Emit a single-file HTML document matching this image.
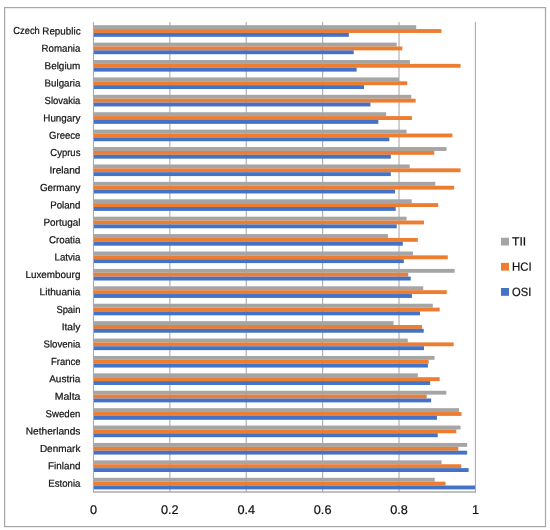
<!DOCTYPE html>
<html lang="en"><head><meta charset="utf-8"><title>EGDI components</title>
<style>html,body{margin:0;padding:0;background:#fff}svg{display:block}text{font-family:"Liberation Sans",sans-serif;fill:#111;stroke:#111;stroke-width:0.22px;text-rendering:geometricPrecision;stroke-linejoin:round}</style></head><body>
<svg width="550" height="530" viewBox="0 0 550 530">
<rect x="0" y="0" width="550" height="530" fill="#fff"/>
<rect x="4.6" y="7.6" width="540.9" height="519" fill="none" stroke="#A6A6A6" stroke-width="1.2"/>
<line x1="93.45" y1="21.90" x2="93.45" y2="492.30" stroke="#ABABAB" stroke-width="1.1"/>
<line x1="169.85" y1="21.90" x2="169.85" y2="492.30" stroke="#ABABAB" stroke-width="1.1"/>
<line x1="246.24" y1="21.90" x2="246.24" y2="492.30" stroke="#ABABAB" stroke-width="1.1"/>
<line x1="322.64" y1="21.90" x2="322.64" y2="492.30" stroke="#ABABAB" stroke-width="1.1"/>
<line x1="399.03" y1="21.90" x2="399.03" y2="492.30" stroke="#ABABAB" stroke-width="1.1"/>
<line x1="475.43" y1="21.90" x2="475.43" y2="492.30" stroke="#ABABAB" stroke-width="1.1"/>
<line x1="92.95" y1="492.00" x2="475.93" y2="492.00" stroke="#ABABAB" stroke-width="1.3"/>
<rect x="93.95" y="25.20" width="322.27" height="3.87" fill="#A5A5A5"/>
<rect x="93.95" y="29.07" width="347.48" height="3.87" fill="#ED7D31"/>
<rect x="93.95" y="32.94" width="254.89" height="3.87" fill="#4472C4"/>
<rect x="93.95" y="42.61" width="302.79" height="3.87" fill="#A5A5A5"/>
<rect x="93.95" y="46.48" width="308.37" height="3.87" fill="#ED7D31"/>
<rect x="93.95" y="50.35" width="259.78" height="3.87" fill="#4472C4"/>
<rect x="93.95" y="60.02" width="316.01" height="3.87" fill="#A5A5A5"/>
<rect x="93.95" y="63.88" width="366.58" height="3.87" fill="#ED7D31"/>
<rect x="93.95" y="67.75" width="262.68" height="3.87" fill="#4472C4"/>
<rect x="93.95" y="77.42" width="304.97" height="3.87" fill="#A5A5A5"/>
<rect x="93.95" y="81.29" width="313.30" height="3.87" fill="#ED7D31"/>
<rect x="93.95" y="85.16" width="270.09" height="3.87" fill="#4472C4"/>
<rect x="93.95" y="94.83" width="317.31" height="3.87" fill="#A5A5A5"/>
<rect x="93.95" y="98.70" width="321.70" height="3.87" fill="#ED7D31"/>
<rect x="93.95" y="102.57" width="276.51" height="3.87" fill="#4472C4"/>
<rect x="93.95" y="112.24" width="292.21" height="3.87" fill="#A5A5A5"/>
<rect x="93.95" y="116.11" width="317.99" height="3.87" fill="#ED7D31"/>
<rect x="93.95" y="119.97" width="284.38" height="3.87" fill="#4472C4"/>
<rect x="93.95" y="129.65" width="312.61" height="3.87" fill="#A5A5A5"/>
<rect x="93.95" y="133.51" width="358.48" height="3.87" fill="#ED7D31"/>
<rect x="93.95" y="137.38" width="295.38" height="3.87" fill="#4472C4"/>
<rect x="93.95" y="147.05" width="352.60" height="3.87" fill="#A5A5A5"/>
<rect x="93.95" y="150.92" width="340.34" height="3.87" fill="#ED7D31"/>
<rect x="93.95" y="154.79" width="296.87" height="3.87" fill="#4472C4"/>
<rect x="93.95" y="164.46" width="315.78" height="3.87" fill="#A5A5A5"/>
<rect x="93.95" y="168.33" width="366.58" height="3.87" fill="#ED7D31"/>
<rect x="93.95" y="172.20" width="296.87" height="3.87" fill="#4472C4"/>
<rect x="93.95" y="181.87" width="341.30" height="3.87" fill="#A5A5A5"/>
<rect x="93.95" y="185.74" width="360.20" height="3.87" fill="#ED7D31"/>
<rect x="93.95" y="189.60" width="301.07" height="3.87" fill="#4472C4"/>
<rect x="93.95" y="199.28" width="317.77" height="3.87" fill="#A5A5A5"/>
<rect x="93.95" y="203.14" width="344.28" height="3.87" fill="#ED7D31"/>
<rect x="93.95" y="207.01" width="301.80" height="3.87" fill="#4472C4"/>
<rect x="93.95" y="216.68" width="312.61" height="3.87" fill="#A5A5A5"/>
<rect x="93.95" y="220.55" width="330.03" height="3.87" fill="#ED7D31"/>
<rect x="93.95" y="224.42" width="302.79" height="3.87" fill="#4472C4"/>
<rect x="93.95" y="234.09" width="294.01" height="3.87" fill="#A5A5A5"/>
<rect x="93.95" y="237.96" width="323.88" height="3.87" fill="#ED7D31"/>
<rect x="93.95" y="241.83" width="308.90" height="3.87" fill="#4472C4"/>
<rect x="93.95" y="251.50" width="318.99" height="3.87" fill="#A5A5A5"/>
<rect x="93.95" y="255.37" width="353.82" height="3.87" fill="#ED7D31"/>
<rect x="93.95" y="259.23" width="309.90" height="3.87" fill="#4472C4"/>
<rect x="93.95" y="268.90" width="360.70" height="3.87" fill="#A5A5A5"/>
<rect x="93.95" y="272.77" width="314.29" height="3.87" fill="#ED7D31"/>
<rect x="93.95" y="276.64" width="316.77" height="3.87" fill="#4472C4"/>
<rect x="93.95" y="286.31" width="329.30" height="3.87" fill="#A5A5A5"/>
<rect x="93.95" y="290.18" width="352.83" height="3.87" fill="#ED7D31"/>
<rect x="93.95" y="294.05" width="317.99" height="3.87" fill="#4472C4"/>
<rect x="93.95" y="303.72" width="338.85" height="3.87" fill="#A5A5A5"/>
<rect x="93.95" y="307.59" width="345.73" height="3.87" fill="#ED7D31"/>
<rect x="93.95" y="311.46" width="326.09" height="3.87" fill="#4472C4"/>
<rect x="93.95" y="321.13" width="299.58" height="3.87" fill="#A5A5A5"/>
<rect x="93.95" y="325.00" width="328.08" height="3.87" fill="#ED7D31"/>
<rect x="93.95" y="328.86" width="329.76" height="3.87" fill="#4472C4"/>
<rect x="93.95" y="338.53" width="313.83" height="3.87" fill="#A5A5A5"/>
<rect x="93.95" y="342.40" width="359.71" height="3.87" fill="#ED7D31"/>
<rect x="93.95" y="346.27" width="330.03" height="3.87" fill="#4472C4"/>
<rect x="93.95" y="355.94" width="340.61" height="3.87" fill="#A5A5A5"/>
<rect x="93.95" y="359.81" width="334.69" height="3.87" fill="#ED7D31"/>
<rect x="93.95" y="363.68" width="333.96" height="3.87" fill="#4472C4"/>
<rect x="93.95" y="373.35" width="323.88" height="3.87" fill="#A5A5A5"/>
<rect x="93.95" y="377.22" width="345.73" height="3.87" fill="#ED7D31"/>
<rect x="93.95" y="381.09" width="336.18" height="3.87" fill="#4472C4"/>
<rect x="93.95" y="390.76" width="352.37" height="3.87" fill="#A5A5A5"/>
<rect x="93.95" y="394.63" width="332.70" height="3.87" fill="#ED7D31"/>
<rect x="93.95" y="398.49" width="337.17" height="3.87" fill="#4472C4"/>
<rect x="93.95" y="408.16" width="365.09" height="3.87" fill="#A5A5A5"/>
<rect x="93.95" y="412.03" width="367.58" height="3.87" fill="#ED7D31"/>
<rect x="93.95" y="415.90" width="343.01" height="3.87" fill="#4472C4"/>
<rect x="93.95" y="425.57" width="366.58" height="3.87" fill="#A5A5A5"/>
<rect x="93.95" y="429.44" width="362.38" height="3.87" fill="#ED7D31"/>
<rect x="93.95" y="433.31" width="343.78" height="3.87" fill="#4472C4"/>
<rect x="93.95" y="442.98" width="373.19" height="3.87" fill="#A5A5A5"/>
<rect x="93.95" y="446.85" width="364.37" height="3.87" fill="#ED7D31"/>
<rect x="93.95" y="450.72" width="373.19" height="3.87" fill="#4472C4"/>
<rect x="93.95" y="460.39" width="347.67" height="3.87" fill="#A5A5A5"/>
<rect x="93.95" y="464.25" width="367.31" height="3.87" fill="#ED7D31"/>
<rect x="93.95" y="468.12" width="374.68" height="3.87" fill="#4472C4"/>
<rect x="93.95" y="477.79" width="340.80" height="3.87" fill="#A5A5A5"/>
<rect x="93.95" y="481.66" width="351.57" height="3.87" fill="#ED7D31"/>
<rect x="93.95" y="485.53" width="381.10" height="3.87" fill="#4472C4"/>
<text y="34.45" font-size="10.2" transform="rotate(0.03 80.6 34.45)"><tspan x="13.34" textLength="26.5" lengthAdjust="spacingAndGlyphs">Czech</tspan> <tspan x="42.30" textLength="38.3" lengthAdjust="spacingAndGlyphs">Republic</tspan></text>
<text x="80.4" y="51.85" font-size="10.2" text-anchor="end" transform="rotate(0.03 80.4 51.85)" textLength="38.8" lengthAdjust="spacingAndGlyphs">Romania</text>
<text x="80.4" y="69.25" font-size="10.2" text-anchor="end" transform="rotate(0.03 80.4 69.25)" textLength="35.9" lengthAdjust="spacingAndGlyphs">Belgium</text>
<text x="80.4" y="86.64" font-size="10.2" text-anchor="end" transform="rotate(0.03 80.4 86.64)" textLength="35.8" lengthAdjust="spacingAndGlyphs">Bulgaria</text>
<text x="80.4" y="104.04" font-size="10.2" text-anchor="end" transform="rotate(0.03 80.4 104.04)" textLength="35.8" lengthAdjust="spacingAndGlyphs">Slovakia</text>
<text x="80.4" y="121.43" font-size="10.2" text-anchor="end" transform="rotate(0.03 80.4 121.43)" textLength="37.1" lengthAdjust="spacingAndGlyphs">Hungary</text>
<text x="80.4" y="138.83" font-size="10.2" text-anchor="end" transform="rotate(0.03 80.4 138.83)" textLength="31.3" lengthAdjust="spacingAndGlyphs">Greece</text>
<text x="80.4" y="156.22" font-size="10.2" text-anchor="end" transform="rotate(0.03 80.4 156.22)" textLength="30.1" lengthAdjust="spacingAndGlyphs">Cyprus</text>
<text x="80.4" y="173.62" font-size="10.2" text-anchor="end" transform="rotate(0.03 80.4 173.62)" textLength="30.9" lengthAdjust="spacingAndGlyphs">Ireland</text>
<text x="80.4" y="191.02" font-size="10.2" text-anchor="end" transform="rotate(0.03 80.4 191.02)" textLength="40.5" lengthAdjust="spacingAndGlyphs">Germany</text>
<text x="80.4" y="208.41" font-size="10.2" text-anchor="end" transform="rotate(0.03 80.4 208.41)" textLength="30.2" lengthAdjust="spacingAndGlyphs">Poland</text>
<text x="80.4" y="225.81" font-size="10.2" text-anchor="end" transform="rotate(0.03 80.4 225.81)" textLength="36.9" lengthAdjust="spacingAndGlyphs">Portugal</text>
<text x="80.4" y="243.20" font-size="10.2" text-anchor="end" transform="rotate(0.03 80.4 243.20)" textLength="31.5" lengthAdjust="spacingAndGlyphs">Croatia</text>
<text x="80.4" y="260.60" font-size="10.2" text-anchor="end" transform="rotate(0.03 80.4 260.60)" textLength="25.9" lengthAdjust="spacingAndGlyphs">Latvia</text>
<text x="80.4" y="278.00" font-size="10.2" text-anchor="end" transform="rotate(0.03 80.4 278.00)" textLength="55.0" lengthAdjust="spacingAndGlyphs">Luxembourg</text>
<text x="80.4" y="295.39" font-size="10.2" text-anchor="end" transform="rotate(0.03 80.4 295.39)" textLength="40.8" lengthAdjust="spacingAndGlyphs">Lithuania</text>
<text x="80.4" y="312.79" font-size="10.2" text-anchor="end" transform="rotate(0.03 80.4 312.79)" textLength="24.0" lengthAdjust="spacingAndGlyphs">Spain</text>
<text x="80.4" y="330.18" font-size="10.2" text-anchor="end" transform="rotate(0.03 80.4 330.18)" textLength="18.7" lengthAdjust="spacingAndGlyphs">Italy</text>
<text x="80.4" y="347.58" font-size="10.2" text-anchor="end" transform="rotate(0.03 80.4 347.58)" textLength="36.9" lengthAdjust="spacingAndGlyphs">Slovenia</text>
<text x="80.4" y="364.98" font-size="10.2" text-anchor="end" transform="rotate(0.03 80.4 364.98)" textLength="29.4" lengthAdjust="spacingAndGlyphs">France</text>
<text x="80.4" y="382.37" font-size="10.2" text-anchor="end" transform="rotate(0.03 80.4 382.37)" textLength="31.2" lengthAdjust="spacingAndGlyphs">Austria</text>
<text x="80.4" y="399.77" font-size="10.2" text-anchor="end" transform="rotate(0.03 80.4 399.77)" textLength="25.6" lengthAdjust="spacingAndGlyphs">Malta</text>
<text x="80.4" y="417.16" font-size="10.2" text-anchor="end" transform="rotate(0.03 80.4 417.16)" textLength="34.8" lengthAdjust="spacingAndGlyphs">Sweden</text>
<text x="80.4" y="434.56" font-size="10.2" text-anchor="end" transform="rotate(0.03 80.4 434.56)" textLength="54.6" lengthAdjust="spacingAndGlyphs">Netherlands</text>
<text x="80.4" y="451.95" font-size="10.2" text-anchor="end" transform="rotate(0.03 80.4 451.95)" textLength="40.5" lengthAdjust="spacingAndGlyphs">Denmark</text>
<text x="80.4" y="469.35" font-size="10.2" text-anchor="end" transform="rotate(0.03 80.4 469.35)" textLength="32.3" lengthAdjust="spacingAndGlyphs">Finland</text>
<text x="80.4" y="486.75" font-size="10.2" text-anchor="end" transform="rotate(0.03 80.4 486.75)" textLength="32.1" lengthAdjust="spacingAndGlyphs">Estonia</text>
<text x="93.45" y="514.1" font-size="12.7" text-anchor="middle" transform="rotate(0.03 93.45 514.1)">0</text>
<text x="169.85" y="514.1" font-size="12.7" text-anchor="middle" transform="rotate(0.03 169.85 514.1)">0.2</text>
<text x="246.24" y="514.1" font-size="12.7" text-anchor="middle" transform="rotate(0.03 246.24 514.1)">0.4</text>
<text x="322.64" y="514.1" font-size="12.7" text-anchor="middle" transform="rotate(0.03 322.64 514.1)">0.6</text>
<text x="399.03" y="514.1" font-size="12.7" text-anchor="middle" transform="rotate(0.03 399.03 514.1)">0.8</text>
<text x="475.43" y="514.1" font-size="12.7" text-anchor="middle" transform="rotate(0.03 475.43 514.1)">1</text>
<rect x="501" y="237.70" width="8" height="7.8" fill="#A5A5A5"/>
<text x="512.1" y="245.60" font-size="11.9" transform="rotate(0.03 512.1 245.60)" textLength="14.1" lengthAdjust="spacingAndGlyphs">TII</text>
<rect x="501" y="262.85" width="8" height="7.8" fill="#ED7D31"/>
<text x="512.1" y="270.75" font-size="11.9" transform="rotate(0.03 512.1 270.75)" textLength="19.7" lengthAdjust="spacingAndGlyphs">HCI</text>
<rect x="501" y="288.00" width="8" height="7.8" fill="#4472C4"/>
<text x="512.1" y="295.90" font-size="11.9" transform="rotate(0.03 512.1 295.90)" textLength="19.2" lengthAdjust="spacingAndGlyphs">OSI</text>
</svg></body></html>
